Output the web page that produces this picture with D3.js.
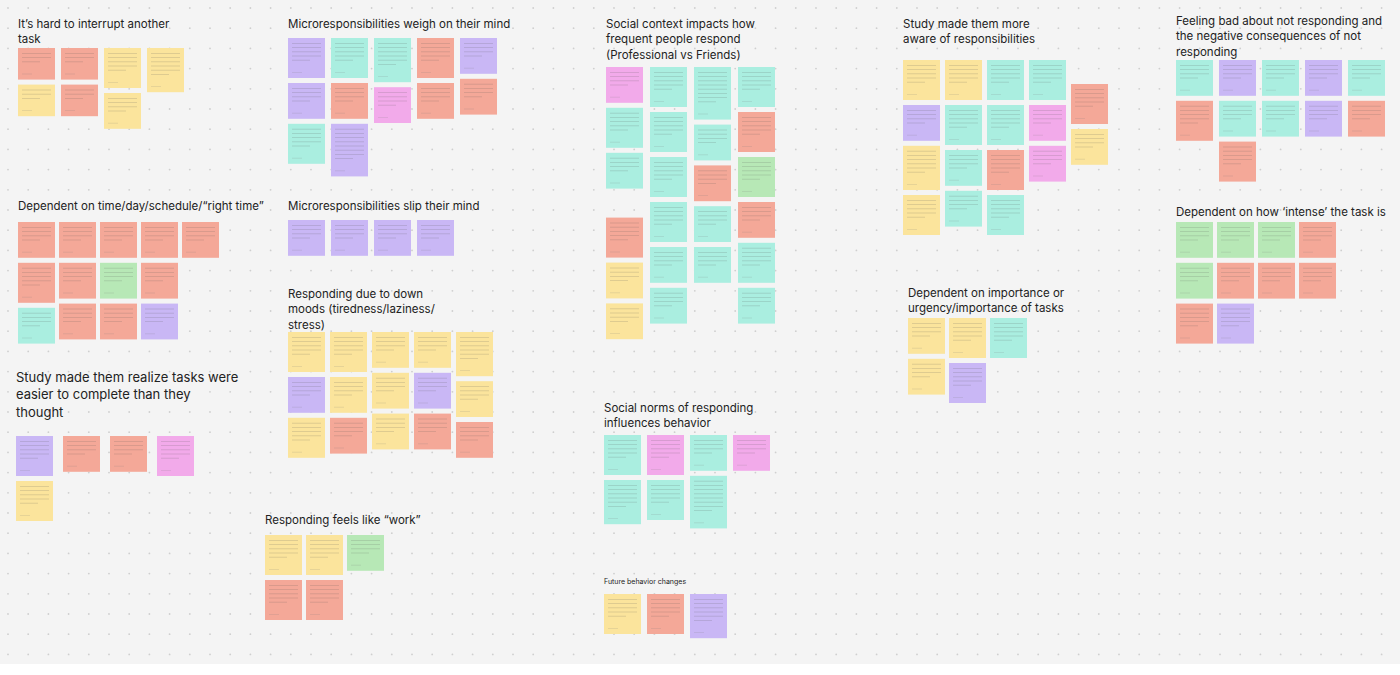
<!DOCTYPE html>
<html>
<head>
<meta charset="utf-8">
<script src="https://cdn.jsdelivr.net/npm/d3@7"></script>
<style>
  body { margin: 0; background: #fff; }
  svg { display: block; font-family: Inter, "Noto Sans", sans-serif; }
</style>
</head>
<body>
<svg id="board" width="1400" height="675"></svg>
<script>
// note codes: colour letter + number of text lines
var colors = { Y: '#fbe49c', P: '#f4a898', V: '#c9b7f5', T: '#aaeee0', G: '#b7e8b6', M: '#f2aaea' };

var titles = [
  "It’s hard to interrupt another\ntask",
  "Dependent on time/day/schedule/“right time”",
  "Study made them realize tasks were\neasier to complete than they\nthought",
  "Microresponsibilities weigh on their mind",
  "Microresponsibilities slip their mind",
  "Responding due to down\nmoods (tiredness/laziness/\nstress)",
  "Responding feels like “work”",
  "Social context impacts how\nfrequent people respond\n(Professional vs Friends)",
  "Social norms of responding\ninfluences behavior",
  "Future behavior changes",
  "Study made them more\naware of responsibilities",
  "Dependent on importance or\nurgency/importance of tasks",
  "Feeling bad about not responding and\nthe negative consequences of not\nresponding",
  "Dependent on how ‘intense’ the task is"
];

var notes = [
  [['P3','Y3'], ['P3','P3'], ['Y5','Y4'], ['Y6']],
  [['P4','P5','T4'], ['P4','P4','P4'], ['P4','G4','P4'], ['P4','P4','V4'], ['P4']],
  [['V5','Y5'], ['P4'], ['P4'], ['M5']],
  [['V5','V4','T5'], ['T5','P4','V8'], ['T6','M4'], ['P5','P4'], ['V4','P4']],
  [['V4'], ['V4'], ['V4'], ['V4']],
  [['Y5','V4','Y5'], ['Y5','Y4','P4'], ['Y4','Y4','Y4'], ['Y4','V4','P4'], ['Y6','Y4','P4']],
  [['Y5','P5'], ['Y5','P5'], ['G4']],
  [['M4','T5','T4','Y0','P5','Y4','Y4'], ['T5','T5','T5','T5','T4','T4'], ['T8','T4','P4','T4','T4'], ['T5','P5','G5','P4','T5','T4']],
  [['T5','T6'], ['M5','T5'], ['T4','T8'], ['M4']],
  [['Y5'], ['P5'], ['V6']],
  [['Y5','V4','Y6','Y5'], ['Y5','T5','T4','T4'], ['T5','T5','P5','T5'], ['T5','M4','M4'], ['Y0','P5','Y4']],
  [['Y4','Y4'], ['Y5','V5'], ['T5']],
  [['T4','P5'], ['V4','T4','P5'], ['T4','T4'], ['V4','V4'], ['T4','P4']],
  [['G4','G4','P5'], ['G4','P4','V5'], ['G4','P4'], ['P4','P4']]
];

// layout: title position, first note row, column step
var layout = [
  {x: 18, y: 28, top: 48, step: 43, size: 11.5},
  {x: 18, y: 210, top: 222, step: 41, size: 11.5},
  {x: 16, y: 382, top: 436, step: 47, size: 13},
  {x: 288, y: 28, top: 38, step: 43, size: 11.5},
  {x: 288, y: 210, top: 220, step: 43, size: 11.5},
  {x: 288, y: 298, top: 332, step: 42, size: 11.5},
  {x: 265, y: 524, top: 535, step: 41, size: 11.5},
  {x: 606, y: 28, top: 67, step: 44, size: 11.5},
  {x: 604, y: 412, top: 435, step: 43, size: 11.5},
  {x: 604, y: 584, top: 594, step: 43, size: 7},
  {x: 903, y: 28, top: 60, step: 42, size: 11.5},
  {x: 908, y: 297, top: 318, step: 41, size: 11.5},
  {x: 1176, y: 25, top: 60, step: 43, size: 11.5},
  {x: 1176, y: 216, top: 222, step: 41, size: 11.5}
];

var svg = d3.select('#board');
svg.append('rect').attr('width', 1400).attr('height', 664).attr('fill', '#f4f4f4');

var gx = d3.range(8, 1400, 20.2), gy = d3.range(8, 664, 20.2);
svg.append('g').selectAll('circle')
  .data(d3.cross(gx, gy)).enter().append('circle')
  .attr('cx', function(d) { return d[0]; })
  .attr('cy', function(d) { return d[1]; })
  .attr('r', 0.9).attr('fill', '#cfcfcf');

var noteW = 37;
function noteH(n) { return 19 + n * 4.2; }

titles.forEach(function(t, i) {
  var L = layout[i];
  var lines = t.split('\n');
  svg.append('text')
    .attr('x', L.x).attr('y', L.y)
    .attr('font-size', L.size).attr('fill', '#222')
    .selectAll('tspan').data(lines).enter().append('tspan')
    .attr('x', L.x).attr('dy', function(d, k) { return k ? L.size * 1.33 : 0; })
    .text(function(d) { return d; });

  var g = svg.append('g');
  var xs = d3.scaleLinear().domain([0, 1]).range([L.x, L.x + L.step]);
  notes[i].forEach(function(col, c) {
    var y = L.top;
    col.forEach(function(code) {
      var n = +code.slice(1);
      var h = noteH(n);
      if (n > 0) {
        var x = xs(c);
        g.append('rect').attr('x', x).attr('y', y).attr('width', noteW).attr('height', h)
          .attr('fill', colors[code[0]]);
        g.selectAll(null).data(d3.range(n)).enter().append('rect')
          .attr('x', x + 4).attr('y', function(d) { return y + 5 + d * 4.2; })
          .attr('width', function(d) { return d === n - 1 ? 18 : 29; })
          .attr('height', 0.8).attr('fill', '#555').attr('opacity', 0.22);
        g.append('rect').attr('x', x + 4).attr('y', y + h - 6).attr('width', 10).attr('height', 0.8)
          .attr('fill', '#777').attr('opacity', 0.2);
      }
      y += h + 5;
    });
  });
});
</script>
</body>
</html>
